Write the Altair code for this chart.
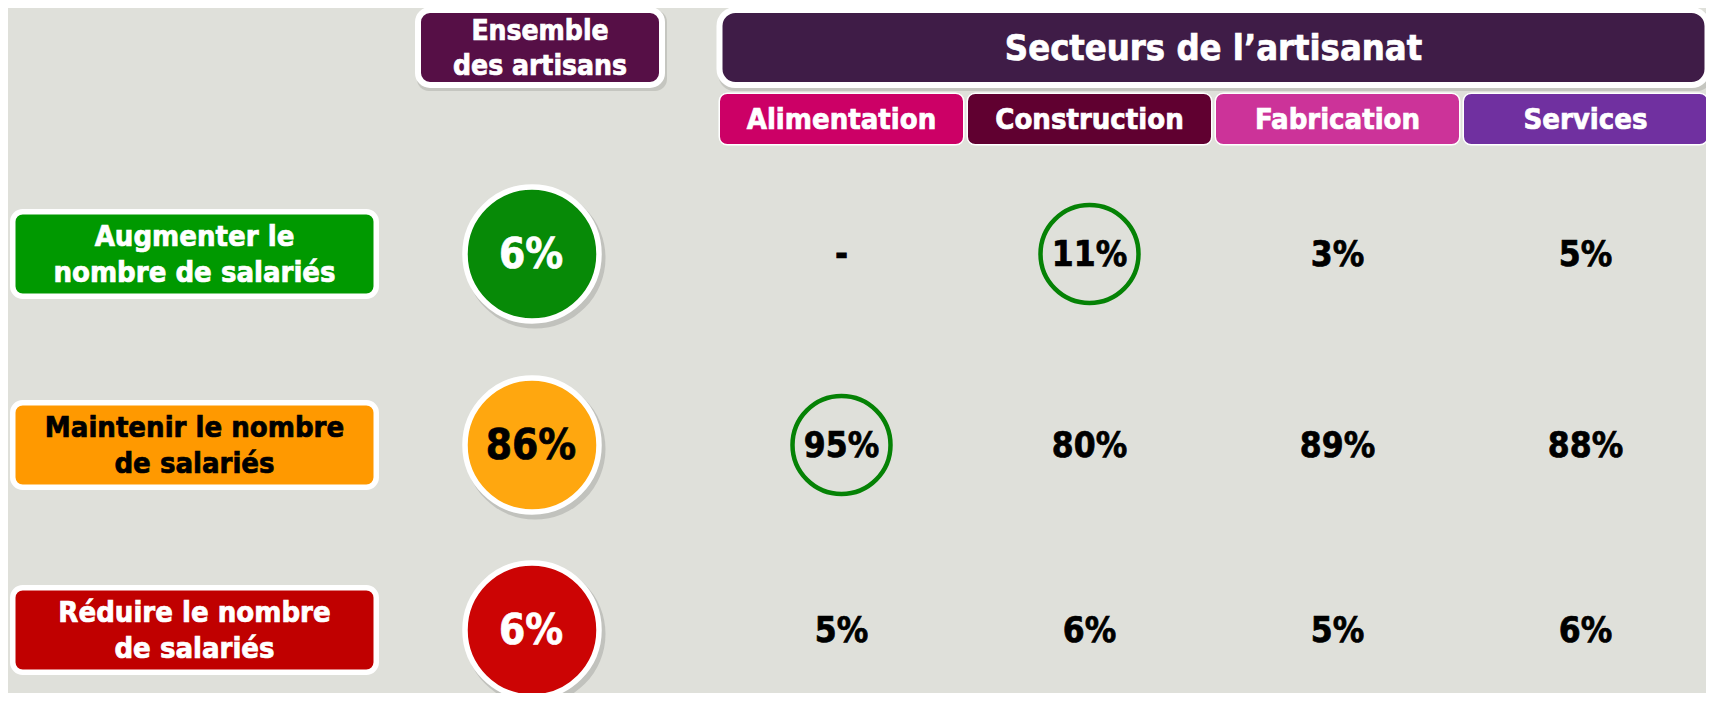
import altair as alt
import pandas as pd

# ---------------- data ----------------
row_labels = [
    "Augmenter le\nnombre de salariés",
    "Maintenir le nombre\nde salariés",
    "Réduire le nombre\nde salariés",
]
ensemble_title = "Ensemble\ndes artisans"
sectors_title = "Secteurs de l\u2019artisanat"
sectors = ["Alimentation", "Construction", "Fabrication", "Services"]

ensemble = [6, 86, 6]
alimentation = [None, 95, 5]
construction = [11, 80, 6]
fabrication = [3, 89, 5]
services = [5, 88, 6]
# (row index, sector) cells circled in green
highlights = [(0, "Construction"), (1, "Alimentation")]

# ---------------- styles ----------------
FONT = "DejaVu Sans Condensed, Liberation Sans Narrow, DejaVu Sans, sans-serif"
BG = "#DFE0DA"
row_box_colors = ["#009900", "#FF9900", "#C00000"]
row_circle_colors = ["#078A07", "#FFA70F", "#CC0404"]
row_text_colors = ["white", "black", "white"]
sector_colors = ["#CC0066", "#600030", "#CC3399", "#7030A0"]
ensemble_head_color = "#560F46"
sectors_head_color = "#3F1C47"
highlight_color = "#058205"
TEXT_STROKE = 0.7


def fmt(v):
    return "-" if v is None else f"{v}%"


# ---------------- tables ----------------
sector_values = [alimentation, construction, fabrication, services]
# column index: 0 = row labels, 1 = ensemble, 2.. = sectors
# row index: 0 = title row, 1 = sector names, 2.. = answers
label_df = pd.DataFrame({
    "col": 0,
    "row": [2 + i for i in range(len(row_labels))],
    "text": row_labels,
    "fill": row_box_colors,
    "tcolor": row_text_colors,
})
ens_df = pd.DataFrame({
    "col": 1,
    "row": [2 + i for i in range(len(ensemble))],
    "text": [fmt(v) for v in ensemble],
    "fill": row_circle_colors,
    "tcolor": row_text_colors,
})
cells = []
for j, (name, vals) in enumerate(zip(sectors, sector_values)):
    for i, v in enumerate(vals):
        cells.append({"col": 2 + j, "row": 2 + i, "text": fmt(v),
                      "hl": (i, name) in highlights})
cells_df = pd.DataFrame(cells)
sub_df = pd.DataFrame({
    "col": [2 + j for j in range(len(sectors))],
    "row": 1,
    "text": sectors,
    "fill": sector_colors,
})
ens_head_df = pd.DataFrame({"col": [1], "row": [0], "text": [ensemble_title]})
sec_head_df = pd.DataFrame({
    "col": [sub_df["col"].mean()], "row": [0], "text": [sectors_title]})

# ---------------- scales ----------------
XS = alt.Scale(domain=[0, 1, 2, 5], range=[186.5, 532, 833.5, 1577.5],
               nice=False, zero=False)
YS = alt.Scale(domain=[0, 1, 2, 3, 4], range=[39.5, 111, 246, 437, 622],
               nice=False, zero=False)
X = alt.X("col:Q", scale=XS, axis=None)
Y = alt.Y("row:Q", scale=YS, axis=None)


def rrect(w, h, r):
    a, b = w / 2, h / 2
    return (f"M{-a + r},{-b} H{a - r} A{r},{r} 0 0 1 {a},{-b + r} "
            f"V{b - r} A{r},{r} 0 0 1 {a - r},{b} H{-a + r} "
            f"A{r},{r} 0 0 1 {-a},{b - r} V{-b + r} A{r},{r} 0 0 1 {-a + r},{-b} Z")


def box(df, w, h, r, sw, fill=None, shadow=False, **kw):
    props = dict(shape=rrect(w, h, r), size=4, filled=True, opacity=1,
                 stroke="white", strokeWidth=sw)
    props.update(kw)
    layers = []
    if shadow:
        layers.append(alt.Chart(df).mark_point(
            shape=rrect(w + sw, h + sw, r), size=4, filled=True, fill="#8a8a86",
            opacity=0.3, strokeWidth=0, xOffset=kw.get("xOffset", 0) + 2,
            yOffset=3).encode(x=X, y=Y))
    if fill is None:
        layers.append(alt.Chart(df).mark_point(**props).encode(
            x=X, y=Y, color=alt.Color("fill:N", scale=None)))
    else:
        layers.append(alt.Chart(df).mark_point(fill=fill, **props).encode(x=X, y=Y))
    return layers


def text(df, size, lh=None, color=None, **kw):
    props = dict(font=FONT, fontWeight="bold", fontSize=size, align="center",
                 baseline="middle", lineBreak="\n", strokeWidth=TEXT_STROKE)
    if lh:
        props["lineHeight"] = lh
    props.update(kw)
    if color is None:
        return alt.Chart(df).mark_text(**props).encode(
            x=X, y=Y, text="text:N",
            color=alt.Color("tcolor:N", scale=None),
            stroke=alt.Stroke("tcolor:N", scale=None))
    return alt.Chart(df).mark_text(color=color, stroke=color, **props).encode(
        x=X, y=Y, text="text:N")


def circ(d):
    # Vega circle symbol: radius = sqrt(size) / 2
    return d * d


layers = []
# headers
layers += box(ens_head_df, 244, 75, 12, 6, fill=ensemble_head_color, shadow=True)
layers.append(text(ens_head_df, 28, lh=35, color="white", dy=-16))
layers += box(sec_head_df, 988, 75, 16, 6, fill=sectors_head_color, shadow=True)
layers.append(text(sec_head_df, 36, color="white", dy=1))
layers += box(sub_df, 244.5, 51.5, 8, 1.5)
layers.append(text(sub_df, 29, color="white", dy=1))
# row labels
layers += box(label_df, 363.5, 84.5, 10, 5.5)
layers.append(text(label_df, 29, lh=36, dy=-17))
# ensemble circles
layers.append(alt.Chart(ens_df).mark_point(
    shape="circle", size=circ(141), filled=True, fill="#8a8a86", opacity=0.35,
    strokeWidth=0, xOffset=-5, yOffset=4).encode(x=X, y=Y))
layers.append(alt.Chart(ens_df).mark_point(
    shape="circle", size=circ(134), filled=True, opacity=1, stroke="white",
    strokeWidth=5.5, xOffset=-8).encode(x=X, y=Y, color=alt.Color("fill:N", scale=None)))
layers.append(text(ens_df, 42, xOffset=-9, dy=1))
# sector cells
layers.append(alt.Chart(cells_df).transform_filter("datum.hl").mark_point(
    shape="circle", size=circ(98), filled=False, opacity=1,
    stroke=highlight_color, strokeWidth=4.5).encode(x=X, y=Y))
layers.append(text(cells_df, 35, color="black", dy=1))

chart = alt.layer(*layers).properties(
    width=1698, height=685, background=BG, padding=0, autosize="none"
).configure_view(stroke=None)

chart.save("out.html", embed_options={"renderer": "svg", "actions": False})
